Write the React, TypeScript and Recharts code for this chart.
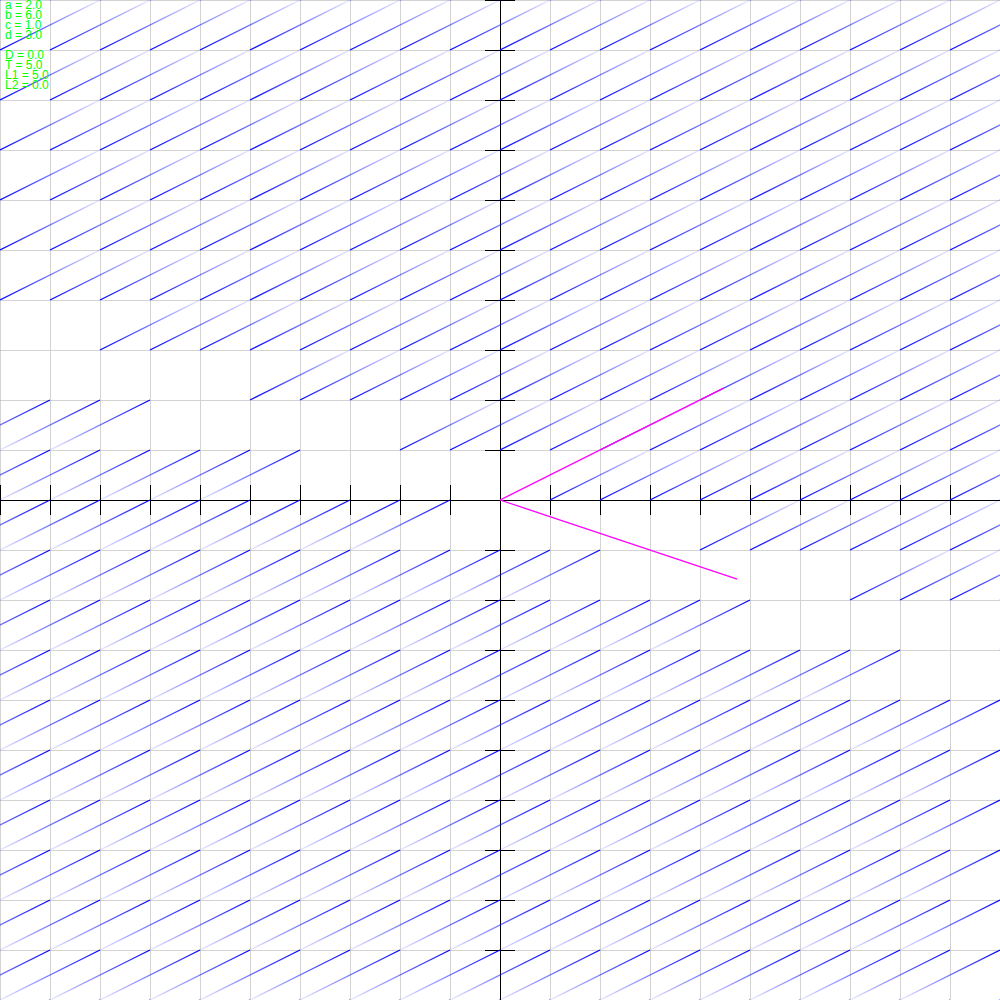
import React from 'react';
import { LineChart, Line, XAxis, YAxis, CartesianGrid, ReferenceLine } from 'recharts';

// matrix of the linear system x' = A x
const matrix = [
  [2.0, 6.0],
  [1.0, 3.0],
];
const paramNames = ['a', 'b', 'c', 'd'];
const paramValues = [2.0, 6.0, 1.0, 3.0];
const statNames = ['D', 'T', 'L1', 'L2'];
const statValues = [0.0, 5.0, 5.0, 0.0];

const gridTicks = [-10, -9, -8, -7, -6, -5, -4, -3, -2, -1, 0, 1, 2, 3, 4, 5, 6, 7, 8, 9, 10];
const eigenVectors = [
  [2, 1],
  [3, -1],
];
const eigenLength = 5.0;
const trailLength = 2.24;
const tickHalf = 0.3;

type Pt = { x: number; y: number };
type Trail = { key: string; up: boolean; pts: Pt[] };

// one fading trail per grid point, following the field direction
const trails: Trail[] = [];
gridTicks.forEach((x0) => {
  gridTicks.forEach((y0) => {
    const vx = matrix[0][0] * x0 + matrix[0][1] * y0;
    const vy = matrix[1][0] * x0 + matrix[1][1] * y0;
    const n = Math.hypot(vx, vy);
    if (n < 1e-9) return;
    trails.push({
      key: `t_${x0}_${y0}`,
      up: vx > 0,
      pts: [
        { x: x0, y: y0 },
        { x: x0 + (vx / n) * trailLength, y: y0 + (vy / n) * trailLength },
      ],
    });
  });
});

const eigenLines = eigenVectors.map(([ex, ey]) => {
  const n = Math.hypot(ex, ey);
  return [
    { x: 0, y: 0 },
    { x: (ex / n) * eigenLength, y: (ey / n) * eigenLength },
  ];
});

const axisTicks = gridTicks.filter((t) => t !== 0);

export default function App() {
  return (
    <div style={{ position: 'absolute', left: 0, top: 0, width: 1000, height: 1000, background: '#fff' }}>
      <LineChart width={1000} height={1000} margin={{ top: 0, right: 0, bottom: 0, left: 0 }}>
        <defs>
          <linearGradient id="fadeUp" x1="0" y1="1" x2="1" y2="0">
            <stop offset="0%" stopColor="#0000ff" stopOpacity={1} />
            <stop offset="100%" stopColor="#0000ff" stopOpacity={0.08} />
          </linearGradient>
          <linearGradient id="fadeDown" x1="1" y1="0" x2="0" y2="1">
            <stop offset="0%" stopColor="#0000ff" stopOpacity={1} />
            <stop offset="100%" stopColor="#0000ff" stopOpacity={0.08} />
          </linearGradient>
        </defs>
        <XAxis dataKey="x" type="number" domain={[-10, 10]} ticks={gridTicks} allowDataOverflow hide />
        <YAxis dataKey="y" type="number" domain={[-10, 10]} ticks={gridTicks} allowDataOverflow hide />
        <CartesianGrid stroke="#d3d3d3" shapeRendering="crispEdges" />
        <ReferenceLine x={0} stroke="#000" shapeRendering="crispEdges" />
        <ReferenceLine y={0} stroke="#000" shapeRendering="crispEdges" />
        {axisTicks.map((t) => (
          <ReferenceLine
            key={`xt${t}`}
            segment={[{ x: t, y: -tickHalf }, { x: t, y: tickHalf }]}
            stroke="#000"
            shapeRendering="crispEdges"
          />
        ))}
        {axisTicks.map((t) => (
          <ReferenceLine
            key={`yt${t}`}
            segment={[{ x: -tickHalf, y: t }, { x: tickHalf, y: t }]}
            stroke="#000"
            shapeRendering="crispEdges"
          />
        ))}
        {trails.map((t) => (
          <Line
            key={t.key}
            data={t.pts}
            dataKey="y"
            type="linear"
            stroke={t.up ? 'url(#fadeUp)' : 'url(#fadeDown)'}
            strokeWidth={1.3}
            dot={false}
            activeDot={false}
            isAnimationActive={false}
          />
        ))}
        {eigenLines.map((pts, i) => (
          <Line
            key={`eig${i}`}
            data={pts}
            dataKey="y"
            type="linear"
            stroke="#ff00ff"
            strokeWidth={1.3}
            dot={false}
            activeDot={false}
            isAnimationActive={false}
          />
        ))}
      </LineChart>
      <div
        style={{
          position: 'absolute',
          left: 5,
          top: 0,
          fontFamily: '"Liberation Sans", Arial, sans-serif',
          fontSize: 12,
          lineHeight: '10px',
          color: '#00ff00',
          whiteSpace: 'pre',
        }}
      >
        {paramNames.map((n, i) => (
          <div key={n}>{`${n} = ${paramValues[i].toFixed(1)}`}</div>
        ))}
        <div style={{ height: 10 }} />
        {statNames.map((n, i) => (
          <div key={n}>{`${n} = ${statValues[i].toFixed(1)}`}</div>
        ))}
      </div>
    </div>
  );
}
